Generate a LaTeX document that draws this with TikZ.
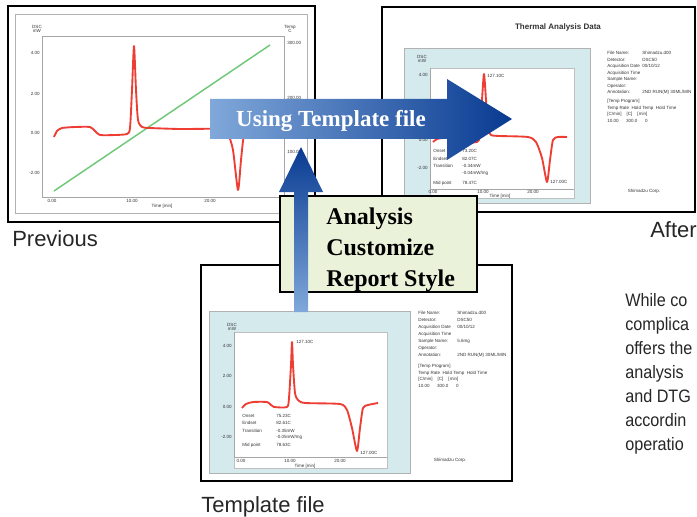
\documentclass[tikz,border=0pt]{standalone}
\usepackage{fontspec}
\setmainfont{Liberation Serif}[BoldFont={Liberation Serif Bold}]
\setsansfont{Liberation Sans}
\newfontfamily\narrowfont[FakeStretch=0.9]{Liberation Sans}
\usepackage{tikz}

\definecolor{panelblue}{RGB}{212,234,237}
\definecolor{notegreen}{RGB}{234,242,218}
\definecolor{arrowdark}{RGB}{8,58,145}
\definecolor{arrowlight}{RGB}{128,168,218}
\definecolor{dscred}{RGB}{238,62,52}
\definecolor{tempgreen}{RGB}{110,200,120}

\tikzset{
  minitext/.style={font=\fontsize{3.4}{4}\selectfont\sffamily, text=black!80, inner sep=0pt},
  labeltext/.style={font=\fontsize{16.5}{18}\selectfont\sffamily, text=black!85, inner sep=0pt},
  notetext/.style={font=\fontsize{18}{22}\selectfont\bfseries, inner sep=0pt},
  bodytext/.style={font=\fontsize{13.5}{15}\selectfont\narrowfont, text=black!85, inner sep=0pt},
  dsccurve/.style={dscred, line width=1.4pt, line join=round},
}

\begin{document}
\begin{tikzpicture}[x=0.75pt,y=0.75pt,yscale=-1,xscale=1]
\useasboundingbox (0,0) rectangle (697,517);

%Previous: frames and plot
\draw [line width=1.1pt]  (8,6) rectangle (315,222) ;
\draw [gray!60]  (15,14) rectangle (307,213) ;
\draw [gray!70, line width=0.5pt]  (42,36) rectangle (284,197) ;
%Temperature line
\draw [tempgreen, line width=1.1pt]  (54,191) -- (270,45) ;
%DSC curve
\draw [dsccurve] plot[smooth, tension=0.4] coordinates {(54,137) (57,131) (62,128) (75,127) (90,127) (95,131) (100,135) (115,135) (127,134) (130,128) (132,90) (134,46) (136,90) (138,120) (142,127) (150,128) (180,129) (222,129) (228,134) (233,150) (238,190) (241,160) (244,135) (250,129) (270,128)};

% Text Node
\draw (37,27) node (pdsc) [minitext] {DSC};
\draw (37,31) node (pmw) [minitext] {mW};
\draw (40,53) node (py4) [minitext, anchor=east] {4.00};
\draw (40,94) node (py2) [minitext, anchor=east] {2.00};
\draw (40,133) node (py0) [minitext, anchor=east] {0.00};
\draw (40,173) node (pym2) [minitext, anchor=east] {-2.00};
\draw (290,27) node (ptemp) [minitext] {Temp};
\draw (290,31) node (pc) [minitext] {C};
\draw (287,43) node (pt300) [minitext, anchor=west] {300.00};
\draw (287,98) node (pt200) [minitext, anchor=west] {200.00};
\draw (287,152) node (pt100) [minitext, anchor=west] {100.00};
\draw (52,201) node (px0) [minitext] {0.00};
\draw (132,201) node (px10) [minitext] {10.00};
\draw (210,201) node (px20) [minitext] {20.00};
\draw (162,206) node (ptime) [minitext] {Time [min]};
\draw (12,246) node (lblprev) [labeltext, anchor=base west] {Previous};

%After: report page
\draw [line width=0.9pt]  (382,7) rectangle (695,212) ;
\draw [gray!60, fill=panelblue]  (404,48) rectangle (590,203) ;
\draw [gray!50, fill=white]  (430,68) rectangle (574,198) ;
\draw [gray!70, line width=0.5pt]  (430,68) -- (430,189) -- (574,189) ;
\draw [dsccurve] plot[smooth, tension=0.4] coordinates {(433,142) (437,139) (443,138) (455,138) (459,141) (463,142) (477,142) (480,135) (482,100) (484,74) (486,100) (488,128) (491,135) (500,136) (528,137) (536,142) (542,158) (547,182) (550,160) (553,140) (558,137) (567,137)};

% Text Node
\draw (558,27) node (atitle) [minitext, font=\fontsize{6}{7}\selectfont\sffamily\bfseries] {Thermal Analysis Data};
\draw (422,57) node (adsc) [minitext] {DSC};
\draw (422,61) node (amw) [minitext] {mW};
\draw (428,75) node (ay4) [minitext, anchor=east] {4.00};
\draw (428,108) node (ay2) [minitext, anchor=east] {2.00};
\draw (428,140) node (ay0) [minitext, anchor=east] {0.00};
\draw (428,168) node (aym2) [minitext, anchor=east] {-2.00};
\draw (433,192) node (ax0) [minitext] {0.00};
\draw (483,192) node (ax10) [minitext] {10.00};
\draw (533,192) node (ax20) [minitext] {20.00};
\draw (500,196) node (atime) [minitext] {Time [min]};
\draw (487,76) node (apeak) [minitext, anchor=west] {127.10C};
\draw (550,182) node (adip) [minitext, anchor=west] {127.00C};
\draw (433,151) node (aon) [minitext, anchor=west] {Onset};
\draw (433,159) node (aend) [minitext, anchor=west] {Endset};
\draw (433,166) node (atr) [minitext, anchor=west] {Transition};
\draw (433,183) node (amid) [minitext, anchor=west] {Mid point};
\draw (462,151) node (aonv) [minitext, anchor=west] {73.20C};
\draw (462,159) node (aendv) [minitext, anchor=west] {82.07C};
\draw (462,166) node (atrv) [minitext, anchor=west] {-0.34mW};
\draw (462,173) node (atrw) [minitext, anchor=west] {-0.04mW/mg};
\draw (462,183) node (amidv) [minitext, anchor=west] {78.47C};
\draw (607,51) node (ainfo) [minitext, anchor=north west, align=left, font=\fontsize{3.4}{4.9}\selectfont\sffamily] {File Name:\\Detector:\\Acquisition Date\\Acquisition Time\\Sample Name:\\Operator:\\Annotation:};
\draw (642,51) node (ainfov) [minitext, anchor=north west, align=left, font=\fontsize{3.4}{4.9}\selectfont\sffamily] {Shimadzu.d00\\DSC50\\00/10/12\\\\\\\\2ND RUN(M) 30ML/MIN};
\draw (607,99) node (aprog) [minitext, anchor=north west, align=left, font=\fontsize{3.4}{4.9}\selectfont\sffamily] {[Temp Program]\\Temp Rate\ \ Hold Temp\ \ Hold Time\\{}[C/min]\ \ \ \ [C]\ \ \ \ [min]\\10.00\ \ \ \ \ \ 300.0\ \ \ \ \ \ 0};
\draw (644,191) node (acorp) [minitext] {Shimadzu Corp.};
\draw (650,238) node (lblafter) [labeltext, anchor=base west] {After};

%Template file: report page
\draw [line width=1pt]  (201,265) rectangle (512,481) ;
\draw [gray!60, fill=panelblue]  (209,311) rectangle (410,473) ;
\draw [gray!50, fill=white]  (234,332) rectangle (387,468) ;
\draw [gray!70, line width=0.5pt]  (234,332) -- (234,457) -- (387,457) ;
\draw [dsccurve] plot[smooth, tension=0.4] coordinates {(242,408) (246,404) (253,402) (267,402) (271,405) (274,407) (287,407) (289,398) (291,365) (292,342) (293,365) (295,393) (298,400) (305,403) (340,404) (347,410) (352,428) (357,451) (360,428) (363,408) (368,405) (378,403)};

% Text Node
\draw (232,325) node (tdsc) [minitext] {DSC};
\draw (232,329) node (tmw) [minitext] {mW};
\draw (232,346) node (ty4) [minitext, anchor=east] {4.00};
\draw (232,376) node (ty2) [minitext, anchor=east] {2.00};
\draw (232,407) node (ty0) [minitext, anchor=east] {0.00};
\draw (232,437) node (tym2) [minitext, anchor=east] {-2.00};
\draw (241,461) node (tx0) [minitext] {0.00};
\draw (290,461) node (tx10) [minitext] {10.00};
\draw (340,461) node (tx20) [minitext] {20.00};
\draw (305,466) node (ttime) [minitext] {Time [min]};
\draw (296,342) node (tpeak) [minitext, anchor=west] {127.10C};
\draw (360,453) node (tdip) [minitext, anchor=west] {127.00C};
\draw (242,416) node (ton) [minitext, anchor=west] {Onset};
\draw (242,423) node (tend) [minitext, anchor=west] {Endset};
\draw (242,431) node (ttr) [minitext, anchor=west] {Transition};
\draw (242,445) node (tmid) [minitext, anchor=west] {Mid point};
\draw (276,416) node (tonv) [minitext, anchor=west] {75.23C};
\draw (276,423) node (tendv) [minitext, anchor=west] {82.61C};
\draw (276,431) node (ttrv) [minitext, anchor=west] {-0.35mW};
\draw (276,437) node (ttrw) [minitext, anchor=west] {-0.05mW/mg};
\draw (276,445) node (tmidv) [minitext, anchor=west] {78.63C};
\draw (418,311) node (tinfo) [minitext, anchor=north west, align=left, font=\fontsize{3.4}{5.2}\selectfont\sffamily] {File Name:\\Detector:\\Acquisition Date\\Acquisition Time\\Sample Name:\\Operator:\\Annotation:};
\draw (457,311) node (tinfov) [minitext, anchor=north west, align=left, font=\fontsize{3.4}{5.2}\selectfont\sffamily] {Shimadzu.d00\\DSC50\\00/10/12\\\\5.6mg\\\\2ND RUN(M) 30ML/MIN};
\draw (418,364) node (tprog) [minitext, anchor=north west, align=left, font=\fontsize{3.4}{4.9}\selectfont\sffamily] {[Temp Program]\\Temp Rate\ \ Hold Temp\ \ Hold Time\\{}[C/min]\ \ \ \ [C]\ \ \ \ [min]\\10.00\ \ \ \ \ \ 300.0\ \ \ \ \ \ 0};
\draw (450,460) node (tcorp) [minitext] {Shimadzu Corp.};
\draw (201,512) node (lbltpl) [labeltext, anchor=base west] {Template file};

%Customize note
\draw [line width=0.8pt, fill=notegreen]  (280,196) rectangle (477,292) ;
\draw (326,224) node (nanalysis) [notetext, anchor=base west] {Analysis};
\draw (326,255) node (ncustom) [notetext, anchor=base west] {Customize};
\draw (326,286) node (nreport) [notetext, anchor=base west] {Report Style};

%Up arrow
\shade [top color=arrowdark, bottom color=arrowlight]  (294,312) -- (294,192) -- (279,192) -- (301,147) -- (323,192) -- (308,192) -- (308,312) -- cycle ;
%Right arrow
\shade [left color=arrowlight, right color=arrowdark]  (210,99) -- (447,99) -- (447,79) -- (512,119) -- (447,160) -- (447,139) -- (210,139) -- cycle ;
\draw (331,127) node (usetpl) [notetext, font=\fontsize{17.25}{20}\selectfont\bfseries, text=white, anchor=base] {Using Template file};

%Right text
\draw (625,306) node (rt1) [bodytext, anchor=base west] {While co};
\draw (625,330) node (rt2) [bodytext, anchor=base west] {complica};
\draw (625,354) node (rt3) [bodytext, anchor=base west] {offers the};
\draw (625,378) node (rt4) [bodytext, anchor=base west] {analysis};
\draw (625,402) node (rt5) [bodytext, anchor=base west] {and DTG};
\draw (625,426) node (rt6) [bodytext, anchor=base west] {accordin};
\draw (625,450) node (rt7) [bodytext, anchor=base west] {operatio};

\end{tikzpicture}
\end{document}
